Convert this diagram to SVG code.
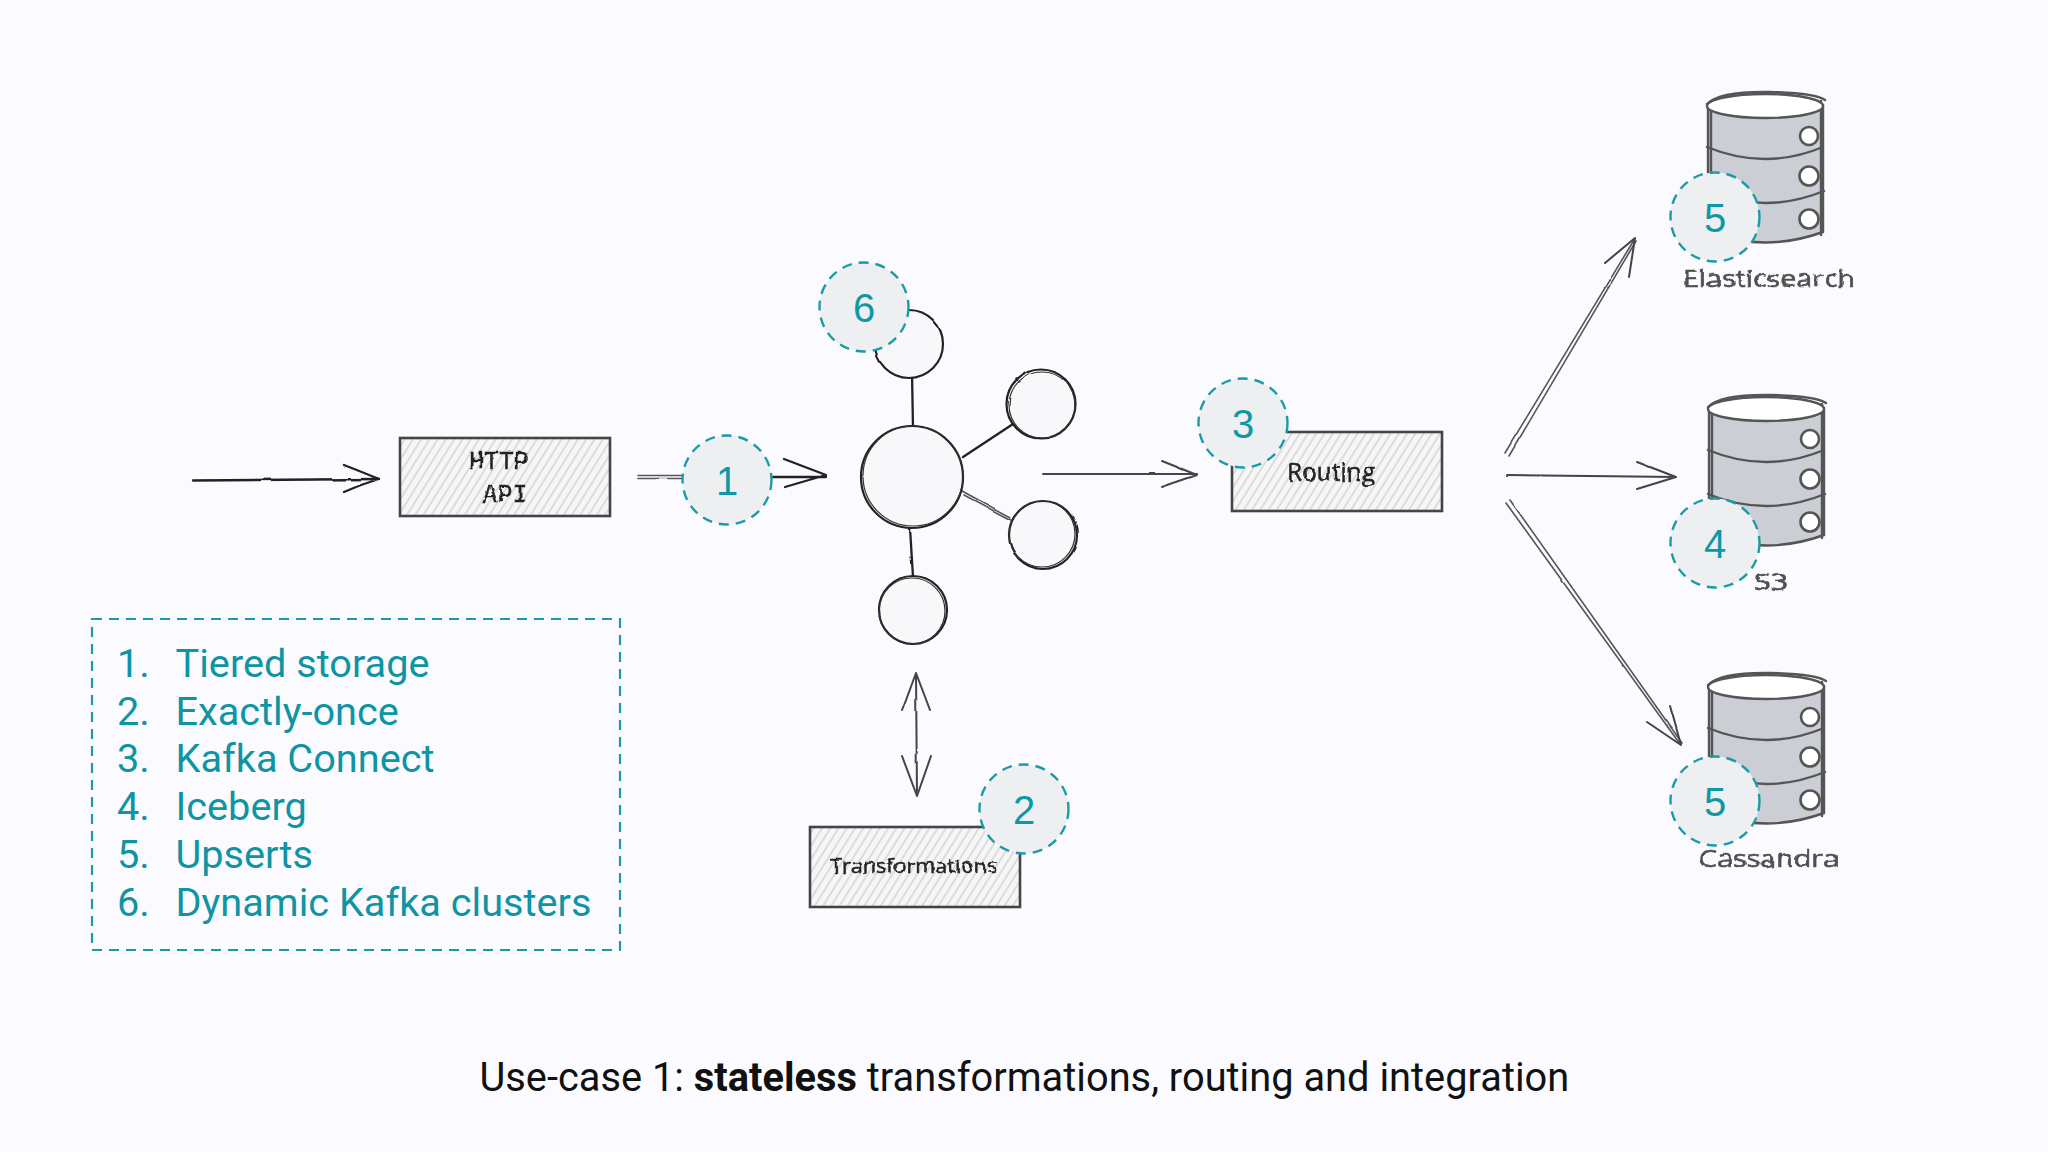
<svg xmlns="http://www.w3.org/2000/svg" width="2048" height="1152" viewBox="0 0 2048 1152">
<style>
.bg{fill:#fbfbff}
.badge{fill:#eeeff0;stroke:#1b9aa8;stroke-width:2.4;stroke-dasharray:10 7}
.num{font-family:"Liberation Sans",Roboto,sans-serif;font-size:40px;fill:#0e97a6;text-anchor:middle}
.list{font-family:Roboto,"Liberation Sans",sans-serif;font-size:39.7px;fill:#0e94a3}
.title{font-family:Roboto,"Liberation Sans",sans-serif;font-size:39.8px;fill:#111}
.hand{font-family:"Open Sans","Liberation Sans",sans-serif;fill:#222;stroke:#222;stroke-width:.5;font-weight:400}
.mono{font-family:"Liberation Mono",monospace;fill:#222;stroke:#222;stroke-width:.3;font-weight:400}
.dbl{font-family:"Open Sans","Liberation Sans",sans-serif;fill:#505050;stroke:#505050;stroke-width:.6;font-weight:400}
.line{fill:none;stroke:#222;stroke-width:2.3;stroke-linecap:round;stroke-linejoin:round}
.thin{fill:none;stroke:#555;stroke-width:1.6;stroke-linecap:round}
.gline{fill:none;stroke:#444;stroke-width:2;stroke-linecap:round;stroke-linejoin:round}
.ball{fill:#f8f8fa;stroke:#222;stroke-width:2.2}
.ball2{fill:none;stroke:#333;stroke-width:1.2}
.box{fill:url(#hatch);stroke:#444;stroke-width:2.6}
.dbs{fill:none;stroke:#555;stroke-width:2.4;stroke-linecap:round}
</style>
<defs>
<pattern id="hatch" width="7" height="7" patternUnits="userSpaceOnUse" patternTransform="rotate(-58)">
<rect width="7" height="7" fill="#f6f6f7"/>
<line x1="0" y1="2" x2="7" y2="2" stroke="#d6d6d9" stroke-width="1.6"/>
</pattern>
<filter id="rough" x="-10%" y="-10%" width="120%" height="120%">
<feTurbulence type="fractalNoise" baseFrequency="0.03" numOctaves="2" seed="4"/>
<feDisplacementMap in="SourceGraphic" scale="2.2" xChannelSelector="R" yChannelSelector="G"/>
</filter>
<filter id="wob" x="-10%" y="-30%" width="120%" height="160%">
<feTurbulence type="fractalNoise" baseFrequency="0.09" numOctaves="2" seed="7"/>
<feDisplacementMap in="SourceGraphic" scale="3.5" xChannelSelector="R" yChannelSelector="G"/>
</filter>
<g id="db">
<path d="M-57 0V127Q0 148 58 127V0Z" fill="#cbced4" stroke="none"/>
<path class="dbs" d="M-57 0V127Q0 148 58 127V0M-54 3V128M56 -4V130"/>
<ellipse cx="0" cy="1" rx="58" ry="12" fill="#fff" stroke="#555" stroke-width="2.4"/>
<path class="dbs" d="M-58 -1Q-45 -14 5 -13Q50 -12 60 -5"/>
<path class="dbs" d="M-58 42Q0 66 58 42"/>
<path class="dbs" d="M-58 86Q0 110 59 86"/>
<circle cx="44" cy="31" r="9" fill="#fff" stroke="#555" stroke-width="2.6"/>
<circle cx="44" cy="71" r="9.5" fill="#fff" stroke="#555" stroke-width="2.6"/>
<circle cx="44" cy="114" r="9.5" fill="#fff" stroke="#555" stroke-width="2.6"/>
</g>
</defs>
<rect class="bg" width="2048" height="1152"/>

<g id="connectors" filter="url(#rough)">
<path class="line" d="M193 480.5L379 479M344 465Q362 472 379 479Q362 484 344 492"/>
<path class="thin" d="M638 475.5H684M638 478.5H684"/>
<path class="line" d="M772 477H826M784 459L826 475L785 487"/>
<path class="line" d="M912 373L913 428M963 457L1013 424M910 528L913 577"/>
<path class="thin" d="M962 491L1010 517M964 495L1011 520"/>
<path class="gline" d="M1043 474H1197M1162 461L1197 475L1162 487"/>
<path class="gline" d="M916 673L917 796M902 711L916 673L930 710M902 756L917 796L931 756"/>
<path class="thin" d="M1505 453L1634 240M1509 456L1636 241"/>
<path class="gline" d="M1605 263L1635 238L1629 277"/>
<path class="gline" d="M1507 475L1676 477M1637 462L1676 477L1637 489"/>
<path class="thin" d="M1506 503L1680 744M1510 500L1682 743"/>
<path class="gline" d="M1647 722L1681 745L1670 706"/>
</g>

<g id="node-http-api">
<rect class="box" x="400" y="438" width="210" height="78"/>
<text class="mono" x="499" y="469" font-size="25" text-anchor="middle" filter="url(#wob)">HTTP</text>
<text class="mono" x="505" y="502" font-size="25" text-anchor="middle" filter="url(#wob)">API</text>
</g>
<g id="node-transformations">
<rect class="box" x="810" y="827" width="210" height="80"/>
<text class="hand" x="830" y="873" font-size="20" textLength="167" lengthAdjust="spacingAndGlyphs" filter="url(#wob)">Transformations</text>
</g>
<g id="node-routing">
<rect class="box" x="1232" y="432" width="210" height="79"/>
<text class="hand" x="1287" y="481" font-size="26" textLength="88" lengthAdjust="spacingAndGlyphs" filter="url(#wob)">Routing</text>
</g>
<g id="node-kafka" filter="url(#rough)">
<circle class="ball" cx="912" cy="477" r="51"/><circle class="ball2" cx="913" cy="476" r="50"/>
<circle class="ball" cx="909" cy="344" r="34"/>
<circle class="ball" cx="1041" cy="404" r="34.5"/><circle class="ball2" cx="1042" cy="405" r="33"/>
<circle class="ball" cx="1043" cy="535" r="34"/><circle class="ball2" cx="1042" cy="534" r="33"/>
<circle class="ball" cx="913" cy="610" r="34"/><circle class="ball2" cx="912" cy="611" r="33"/>
</g>
<g id="node-elasticsearch">
<use href="#db" x="1765" y="105"/>
<text class="dbl" x="1683" y="287" font-size="24" textLength="172" lengthAdjust="spacingAndGlyphs" filter="url(#wob)">Elasticsearch</text>
</g>
<g id="node-s3">
<use href="#db" x="1766" y="408"/>
<text class="dbl" x="1754" y="590" font-size="24" textLength="34" lengthAdjust="spacingAndGlyphs" filter="url(#wob)">S3</text>
</g>
<g id="node-cassandra">
<use href="#db" x="1766" y="686"/>
<text class="dbl" x="1699" y="867" font-size="24" textLength="140" lengthAdjust="spacingAndGlyphs" filter="url(#wob)">Cassandra</text>
</g>

<g id="badge-1"><circle class="badge" cx="727" cy="480" r="44.5"/><text class="num" x="727" y="495">1</text></g>
<g id="badge-2"><circle class="badge" cx="1024" cy="809" r="44.5"/><text class="num" x="1024" y="824">2</text></g>
<g id="badge-3"><circle class="badge" cx="1243" cy="423" r="44.5"/><text class="num" x="1243" y="438">3</text></g>
<g id="badge-4"><circle class="badge" cx="1715" cy="543" r="44.5"/><text class="num" x="1715" y="558">4</text></g>
<g id="badge-5a"><circle class="badge" cx="1715" cy="217" r="44.5"/><text class="num" x="1715" y="232">5</text></g>
<g id="badge-5b"><circle class="badge" cx="1715" cy="801" r="44.5"/><text class="num" x="1715" y="816">5</text></g>
<g id="badge-6"><circle class="badge" cx="864" cy="307" r="44.5"/><text class="num" x="864" y="322">6</text></g>

<g id="legend">
<rect x="92" y="619" width="528" height="331" fill="none" stroke="#1b9aa8" stroke-width="2.2" stroke-dasharray="10 7"/>
<text class="list" x="117" y="677">1.</text><text class="list" x="175.5" y="677">Tiered storage</text>
<text class="list" x="117" y="724.5">2.</text><text class="list" x="175.5" y="724.5">Exactly-once</text>
<text class="list" x="117" y="772">3.</text><text class="list" x="175.5" y="772">Kafka Connect</text>
<text class="list" x="117" y="820">4.</text><text class="list" x="175.5" y="820">Iceberg</text>
<text class="list" x="117" y="868">5.</text><text class="list" x="175.5" y="868">Upserts</text>
<text class="list" x="117" y="915.5">6.</text><text class="list" x="175.5" y="915.5">Dynamic Kafka clusters</text>
</g>
<text class="title" x="479.5" y="1091">Use-case 1: <tspan font-weight="700">stateless</tspan> transformations, routing and integration</text>
</svg>
